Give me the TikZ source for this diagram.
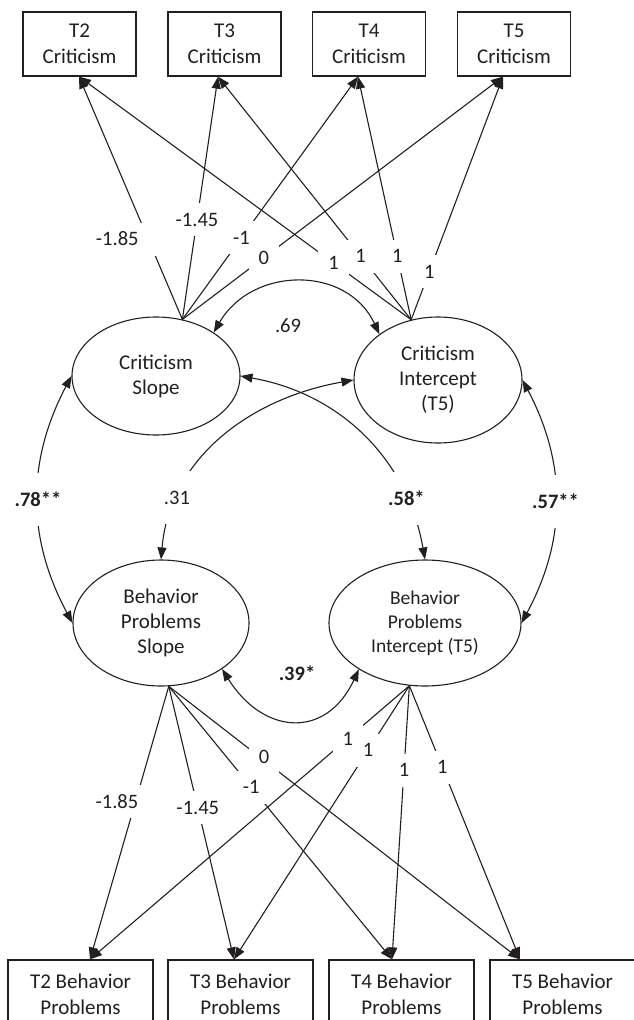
\documentclass[tikz,border=0pt]{standalone}
\usepackage{fontspec}
\setmainfont{Carlito}
\usepackage{tikz}
\usetikzlibrary{arrows.meta}
\usetikzlibrary{shapes.geometric}
\definecolor{ink}{RGB}{35,31,32}

\begin{document}
\begin{tikzpicture}[x=1pt, y=1pt, line width=1.1pt, draw=ink, text=ink, >={Triangle[length=12pt,width=9pt]},
obs/.style={draw, rectangle, line width=1.3pt, inner sep=0pt, align=center, font=\fontsize{21}{26}\selectfont},
lat/.style={draw, ellipse, inner sep=0pt, align=center, font=\fontsize{21}{25}\selectfont},
lbl/.style={fill=white, inner sep=10pt, text height=13pt, text depth=0pt, font=\fontsize{20.5}{24}\selectfont},
clbl/.style={lbl, inner xsep=6pt, inner ysep=20pt, font=\fontsize{20.5}{24}\selectfont\bfseries}]

\useasboundingbox (0,0) rectangle (633,-1020);

%% T2..T5 criticism
\node [obs, minimum width=113pt, minimum height=64pt] (c2) at (79.5,-44) {T2\\Criticism};
\node [obs, minimum width=113pt, minimum height=64pt] (c3) at (224.5,-44) {T3\\Criticism};
\node [obs, minimum width=113pt, minimum height=64pt] (c4) at (369,-44) {T4\\Criticism};
\node [obs, minimum width=113pt, minimum height=64pt] (c5) at (514,-44) {T5\\Criticism};

%% growth factors
\node [lat, minimum width=168pt, minimum height=118pt] (cs) at (156,-376) {Criticism\\Slope};
\node [lat, minimum width=168pt, minimum height=126pt] (ci) at (438,-380) {Criticism\\Intercept\\(T5)};
\node [lat, minimum width=176pt, minimum height=126pt] (bs) at (161,-623) {Behavior\\Problems\\Slope};
\node [lat, minimum width=192pt, minimum height=126pt, font=\fontsize{19.5}{24}\selectfont] (bi) at (425,-623) {Behavior\\Problems\\Intercept (T5)};

%% T2..T5 behavior problems
\node [obs, minimum width=145pt, minimum height=68pt] (b2) at (80.5,-994) {T2 Behavior\\Problems};
\node [obs, minimum width=145pt, minimum height=68pt] (b3) at (240.5,-994) {T3 Behavior\\Problems};
\node [obs, minimum width=145pt, minimum height=68pt] (b4) at (401.5,-994) {T4 Behavior\\Problems};
\node [obs, minimum width=145pt, minimum height=68pt] (b5) at (562.5,-994) {T5 Behavior\\Problems};

% loadings, criticism
\draw [->] (cs.65) -- node[lbl, pos=0.33, xshift=-31pt, inner xsep=17pt] {-1.85} ([xshift=-0.5pt]c2.south);
\draw [->] (cs.65) -- node[lbl, pos=0.41] {-1.45} ([xshift=-6.5pt]c3.south);
\draw [->] (cs.65) -- node[lbl, pos=0.336] {-1} ([xshift=-11pt]c4.south);
\draw [->] (cs.65) -- node[lbl, pos=0.254] {0} ([xshift=-11pt]c5.south);
\draw [->] (ci.114) -- node[lbl, pos=0.234] {1} ([xshift=-0.5pt]c2.south);
\draw [->] (ci.114) -- node[lbl, pos=0.262] {1} ([xshift=-6.5pt]c3.south);
\draw [->] (ci.114) -- node[lbl, pos=0.262] {1} ([xshift=-11pt]c4.south);
\draw [->] (ci.114) -- node[lbl, pos=0.197] {1} ([xshift=-11pt]c5.south);

% loadings, behavior problems
\draw [->] (bs.-83) -- node[lbl, pos=0.423, xshift=-18.5pt] {-1.85} ([xshift=9.5pt]b2.north);
\draw [->] (bs.-83) -- node[lbl, pos=0.445] {-1.45} ([xshift=-6.5pt]b3.north);
\draw [->] (bs.-83) -- node[lbl, pos=0.369] {-1} ([xshift=-9.5pt]b4.north);
\draw [->] (bs.-83) -- node[lbl, pos=0.26, xshift=4pt] {0} ([xshift=-42.5pt]b5.north);
\draw [->] (bi.-104) -- node[lbl, pos=0.193] {1} ([xshift=9.5pt]b2.north);
\draw [->] (bi.-104) -- node[lbl, pos=0.236] {1} ([xshift=-6.5pt]b3.north);
\draw [->] (bi.-104) -- node[lbl, pos=0.309] {1} ([xshift=-9.5pt]b4.north);
\draw [->] (bi.-104) -- node[lbl, pos=0.298] {1} ([xshift=-42.5pt]b5.north);

% covariances
\draw [<->] (cs.37) to[out=60, in=115, looseness=1.18] (ci.142);
\node [font=\fontsize{20.5}{24}\selectfont] (r69) at (288,-326) {.69};
\draw [<->] (cs.west) to[bend right=28] node[clbl, pos=0.5] {.78**} (bs.west);
\draw [<->] (ci.east) to[bend left=28] node[clbl, pos=0.5] {.57**} (bi.east);
\draw [<->] (bs.north) to[out=85, in=190] node[clbl, pos=0.22, font=\fontsize{20.5}{24}\selectfont] {.31} (ci.west);
\draw [<->] (bi.north) to[out=100, in=-10] node[clbl, pos=0.22] {.58*} (cs.east);
\draw [<->] (bs.-37) to[out=-58, in=-115, looseness=1.45] (bi.-145);
\node [font=\fontsize{20.5}{24}\selectfont\bfseries] (r39) at (297,-673) {.39*};

\end{tikzpicture}
\end{document}
